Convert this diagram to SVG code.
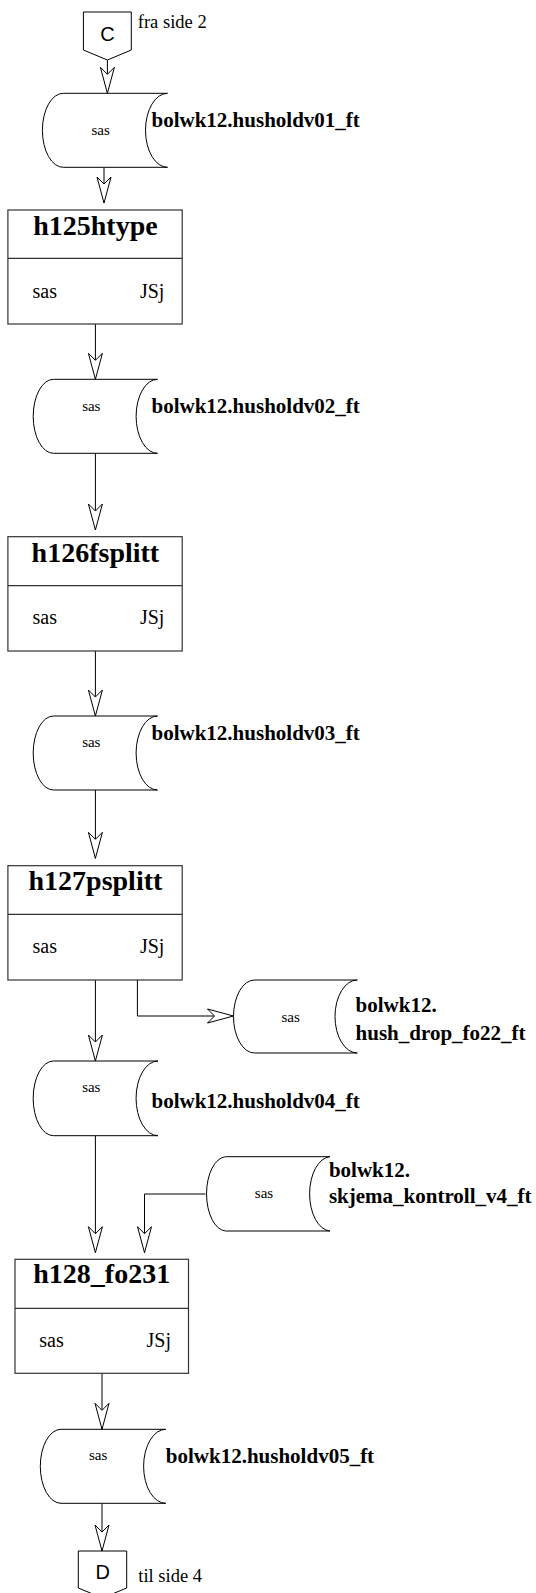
<svg xmlns="http://www.w3.org/2000/svg" width="536" height="1593" viewBox="0 0 536 1593">
<style>
.bg{fill:#fff}
.box{fill:#fff;stroke:#333;stroke-width:1.2}
.ds{fill:#fff;stroke:#000;stroke-width:1}
.cn{fill:#fff;stroke:#000;stroke-width:1}
.ln{fill:none;stroke:#000;stroke-width:1}
.ttl{font-family:"Liberation Serif",serif;font-weight:bold;font-size:28px;text-anchor:middle;fill:#000}
.lbl{font-family:"Liberation Serif",serif;font-weight:bold;font-size:21px;fill:#000}
.reg{font-family:"Liberation Serif",serif;font-size:20px;fill:#000}
.sm{font-family:"Liberation Serif",serif;font-size:15px;fill:#000;text-anchor:middle}
.pg{font-family:"Liberation Serif",serif;font-size:18.5px;fill:#000}
.cl{font-family:"Liberation Sans",sans-serif;font-size:20px;fill:#000;text-anchor:middle}
</style>
<defs>
<marker id="arr" viewBox="0 0 26 14" refX="26" refY="7" markerWidth="26" markerHeight="14" markerUnits="userSpaceOnUse" orient="auto" overflow="visible">
<path d="M0,0 L26,7 L0,14 L7,7 Z" fill="#fff" stroke="#000" stroke-width="1"/>
</marker>
</defs>
<rect class="bg" x="0" y="0" width="536" height="1593"/>

<g id="connectors">
<path class="ln" d="M107.4,60 V93.3" marker-end="url(#arr)"/>
<path class="ln" d="M104,167.3 V203" marker-end="url(#arr)"/>
<path class="ln" d="M95.4,324 V379.3" marker-end="url(#arr)"/>
<path class="ln" d="M95.4,453.3 V530" marker-end="url(#arr)"/>
<path class="ln" d="M95.4,651 V716" marker-end="url(#arr)"/>
<path class="ln" d="M95.4,790 V858.3" marker-end="url(#arr)"/>
<path class="ln" d="M95.4,980 V1061" marker-end="url(#arr)"/>
<path class="ln" d="M137.4,980 V1016 H233.5" marker-end="url(#arr)"/>
<path class="ln" d="M95.4,1135.7 V1252.7" marker-end="url(#arr)"/>
<path class="ln" d="M205.5,1194 H144.5 V1252.7" marker-end="url(#arr)"/>
<path class="ln" d="M102,1373.3 V1429.3" marker-end="url(#arr)"/>
<path class="ln" d="M102,1503.3 V1551" marker-end="url(#arr)"/>
</g>

<g id="conn-C">
<path class="cn" d="M83.4,12 H131.3 V50 L107.4,60 L83.4,50 Z"/>
<text class="cl" x="107.6" y="40.5">C</text>
<text class="pg" x="137.8" y="28.3">fra side 2</text>
</g>

<g id="ds-husholdv01">
<path class="ds" d="M63.2,93.3 H167.5 A22,37 0 0 0 167.5,167.3 H63.2 A20.8,37 0 0 1 63.2,93.3 Z"/>
<text class="sm" x="100.6" y="135">sas</text>
<text class="lbl" x="151.5" y="126.7">bolwk12.husholdv01_ft</text>
</g>

<g id="p-h125htype">
<rect class="box" x="7.9" y="210" width="174.3" height="114"/>
<line class="box" x1="7.9" y1="258.3" x2="182.2" y2="258.3"/>
<text class="ttl" x="95.4" y="235">h125htype</text>
<text class="reg" x="32.5" y="297.7">sas</text>
<text class="reg" x="164.4" y="297.7" text-anchor="end">JSj</text>
</g>

<g id="ds-husholdv02">
<path class="ds" d="M53.5,379.3 H157.5 A21.4,37 0 0 0 157.5,453.3 H53.5 A20.3,37 0 0 1 53.5,379.3 Z"/>
<text class="sm" x="91.3" y="411">sas</text>
<text class="lbl" x="151.5" y="413.3">bolwk12.husholdv02_ft</text>
</g>

<g id="p-h126fsplitt">
<rect class="box" x="7.9" y="536.7" width="174.3" height="114.3"/>
<line class="box" x1="7.9" y1="585.7" x2="182.2" y2="585.7"/>
<text class="ttl" x="95.4" y="561.7">h126fsplitt</text>
<text class="reg" x="32.5" y="624.3">sas</text>
<text class="reg" x="164.4" y="624.3" text-anchor="end">JSj</text>
</g>

<g id="ds-husholdv03">
<path class="ds" d="M53.5,716 H157.5 A21.4,37 0 0 0 157.5,790 H53.5 A20.3,37 0 0 1 53.5,716 Z"/>
<text class="sm" x="91.3" y="747.3">sas</text>
<text class="lbl" x="151.5" y="740">bolwk12.husholdv03_ft</text>
</g>

<g id="p-h127psplitt">
<rect class="box" x="7.9" y="865.7" width="174.3" height="114.3"/>
<line class="box" x1="7.9" y1="914.3" x2="182.2" y2="914.3"/>
<text class="ttl" x="95.4" y="890">h127psplitt</text>
<text class="reg" x="32.5" y="953.3">sas</text>
<text class="reg" x="164.4" y="953.3" text-anchor="end">JSj</text>
</g>

<g id="ds-hush-drop">
<path class="ds" d="M254.5,980 H357.3 A22.3,36.5 0 0 0 357.3,1053 H254.5 A21,36.5 0 0 1 254.5,980 Z"/>
<text class="sm" x="290.6" y="1021.7">sas</text>
<text class="lbl" x="355.6" y="1011.7">bolwk12.</text>
<text class="lbl" x="355.6" y="1040">hush_drop_fo22_ft</text>
</g>

<g id="ds-husholdv04">
<path class="ds" d="M53.5,1061 H158 A21.9,37.3 0 0 0 158,1135.7 H53.5 A20.3,37.3 0 0 1 53.5,1061 Z"/>
<text class="sm" x="91.3" y="1091.7">sas</text>
<text class="lbl" x="151.5" y="1108.3">bolwk12.husholdv04_ft</text>
</g>

<g id="ds-skjema">
<path class="ds" d="M225.5,1156.7 H329.9 A21.4,37.2 0 0 0 329.9,1231 H225.5 A20,37.2 0 0 1 225.5,1156.7 Z"/>
<text class="sm" x="264" y="1198.3">sas</text>
<text class="lbl" x="328.9" y="1176.7">bolwk12.</text>
<text class="lbl" x="328.9" y="1203.3">skjema_kontroll_v4_ft</text>
</g>

<g id="p-h128_fo231">
<rect class="box" x="15" y="1259.3" width="173.5" height="114"/>
<line class="box" x1="15" y1="1308.3" x2="188.5" y2="1308.3"/>
<text class="ttl" x="101.7" y="1283.3">h128_fo231</text>
<text class="reg" x="39.3" y="1346.7">sas</text>
<text class="reg" x="171" y="1346.7" text-anchor="end">JSj</text>
</g>

<g id="ds-husholdv05">
<path class="ds" d="M61,1429.3 H165.8 A22.2,37 0 0 0 165.8,1503.3 H61 A20.7,37 0 0 1 61,1429.3 Z"/>
<text class="sm" x="98.1" y="1460">sas</text>
<text class="lbl" x="165.8" y="1462.7">bolwk12.husholdv05_ft</text>
</g>

<g id="conn-D">
<path class="cn" d="M78.3,1551 H126.7 V1588 L102.5,1598 L78.3,1588 Z"/>
<text class="cl" x="102.7" y="1579.3">D</text>
<text class="pg" x="138.3" y="1581.7">til side 4</text>
</g>
</svg>
